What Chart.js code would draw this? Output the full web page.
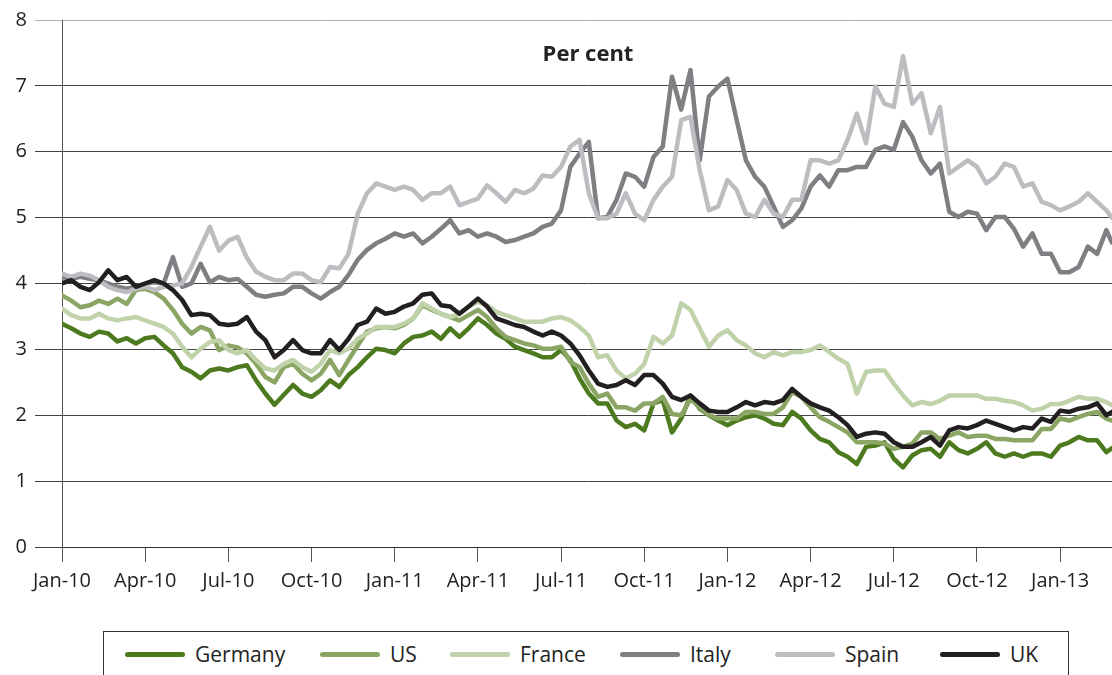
<!DOCTYPE html>
<html>
<head>
<meta charset="utf-8">
<script src="https://cdn.jsdelivr.net/npm/chart.js@4"></script>
<style>
  html, body { margin: 0; padding: 0; background: #fff; }
  #wrap { position: relative; width: 1112px; height: 675px; overflow: hidden; font-family: "Open Sans", "Noto Sans", sans-serif; }
  #title { position: absolute; left: 488px; width: 200px; top: 37px; text-align: center; font-weight: bold; font-size: 22px; color: #222; }
  #legend { position: absolute; left: 103px; top: 631px; width: 966px; height: 70px; border: 1px solid #333; box-sizing: border-box; }
  .item { position: absolute; top: 8px; display: flex; align-items: center; font-size: 21px; color: #222; }
  .sw { width: 60px; height: 5px; border-radius: 3px; margin-right: 10px; }
</style>
</head>
<body>
<div id="wrap">
  <canvas id="c" width="1112" height="620"></canvas>
  <div id="title">Per cent</div>
  <div id="legend"></div>
</div>
<script>
// Quarter tick labels (x axis, every 3 months from Jan-10)
const tickLabels = ["Jan-10","Apr-10","Jul-10","Oct-10","Jan-11","Apr-11","Jul-11","Oct-11","Jan-12","Apr-12","Jul-12","Oct-12","Jan-13"];
const seriesNames = ["Germany","US","France","Italy","Spain","UK"];
const seriesColors = ["#4d7a1e","#8aa564","#c0d2aa","#7f7f83","#bdbdc1","#231f20"];

// Values sampled about every 10 days from Jan 2010 (per cent)
const germany = [3.39,3.32,3.24,3.19,3.27,3.24,3.12,3.17,3.09,3.17,3.19,3.06,2.94,2.73,2.66,2.56,2.68,2.71,2.68,2.73,2.76,2.53,2.33,2.16,2.31,2.46,2.33,2.28,2.38,2.53,
 2.43,2.61,2.73,2.88,3.01,2.99,2.94,3.09,3.19,3.21,3.27,3.16,3.32,3.19,3.32,3.47,3.37,3.24,3.16,3.04,2.99,2.94,2.88,2.88,2.99,2.84,2.56,2.33,2.18,
 2.18,1.92,1.82,1.87,1.77,2.18,2.23,1.74,1.95,2.30,2.10,2.00,1.92,1.85,1.92,1.97,2.00,1.95,1.87,1.85,2.05,1.95,1.77,1.64,1.59,1.44,1.37,1.26,
 1.52,1.54,1.59,1.34,1.21,1.39,1.47,1.49,1.37,1.59,1.47,1.42,1.49,1.59,1.42,1.37,1.42,1.37,1.42,1.42,1.37,1.54,1.59,1.67,1.62,1.62,1.44,1.50];
const us = [3.82,3.74,3.64,3.67,3.74,3.69,3.77,3.69,3.90,3.92,3.87,3.77,3.60,3.39,3.24,3.34,3.29,2.99,3.06,3.03,2.94,2.78,2.58,2.50,2.73,2.78,2.63,2.53,2.63,2.84,
 2.61,2.84,3.06,3.27,3.32,3.34,3.32,3.37,3.47,3.67,3.60,3.54,3.49,3.44,3.52,3.60,3.49,3.32,3.19,3.14,3.09,3.06,3.01,3.01,3.04,2.81,2.73,2.48,2.28,
 2.33,2.12,2.12,2.07,2.18,2.18,2.28,2.02,2.00,2.25,2.12,2.00,1.95,1.95,1.95,2.05,2.05,2.02,2.02,2.12,2.35,2.28,2.12,1.97,1.90,1.82,1.74,1.59,
 1.59,1.59,1.57,1.49,1.52,1.57,1.74,1.74,1.64,1.69,1.74,1.67,1.69,1.69,1.64,1.64,1.62,1.62,1.62,1.79,1.79,1.95,1.92,1.97,2.02,2.05,1.95,1.92];
const france = [3.62,3.52,3.47,3.47,3.54,3.47,3.44,3.47,3.49,3.44,3.39,3.34,3.24,3.04,2.88,3.01,3.11,3.14,2.99,2.94,2.99,2.84,2.71,2.68,2.78,2.84,2.73,2.66,2.78,2.99,
 2.94,3.01,3.16,3.24,3.34,3.34,3.34,3.39,3.47,3.70,3.62,3.54,3.49,3.54,3.65,3.72,3.67,3.57,3.52,3.47,3.42,3.42,3.42,3.47,3.49,3.44,3.34,3.21,2.88,
 2.91,2.68,2.56,2.63,2.78,3.19,3.09,3.21,3.70,3.60,3.32,3.04,3.21,3.29,3.14,3.06,2.94,2.88,2.96,2.91,2.96,2.96,2.99,3.06,2.96,2.86,2.78,2.33,
 2.66,2.68,2.68,2.48,2.30,2.15,2.20,2.17,2.22,2.30,2.30,2.30,2.30,2.25,2.25,2.22,2.20,2.15,2.07,2.10,2.17,2.17,2.22,2.28,2.25,2.25,2.20,2.15];
const italy = [4.10,4.07,4.10,4.07,4.05,4.00,3.95,3.92,3.95,4.00,4.02,4.00,4.40,3.95,4.00,4.30,4.02,4.10,4.05,4.07,3.95,3.83,3.80,3.83,3.85,3.95,3.95,3.85,3.77,3.87,
 3.95,4.13,4.36,4.51,4.61,4.68,4.76,4.71,4.76,4.61,4.71,4.83,4.96,4.76,4.81,4.71,4.76,4.71,4.63,4.66,4.71,4.76,4.86,4.91,5.11,5.77,5.97,6.15,4.99,
 5.01,5.27,5.67,5.62,5.47,5.92,6.08,7.14,6.64,7.24,5.87,6.84,6.99,7.11,6.48,5.87,5.62,5.47,5.17,4.86,4.96,5.14,5.47,5.64,5.47,5.72,5.72,5.77,
 5.77,6.03,6.08,6.03,6.45,6.23,5.87,5.67,5.82,5.09,5.01,5.09,5.06,4.81,5.01,5.01,4.83,4.56,4.76,4.45,4.45,4.17,4.17,4.25,4.56,4.45,4.81,4.62];
const spain = [4.15,4.10,4.15,4.12,4.05,3.95,3.90,3.87,3.92,3.95,3.90,3.95,3.97,4.00,4.25,4.56,4.86,4.50,4.65,4.71,4.39,4.18,4.10,4.05,4.05,4.15,4.15,4.05,4.02,4.25,
 4.23,4.45,5.06,5.37,5.52,5.47,5.42,5.47,5.42,5.27,5.37,5.37,5.47,5.19,5.24,5.29,5.49,5.37,5.24,5.42,5.37,5.44,5.64,5.62,5.77,6.08,6.18,5.37,4.99,
 4.99,5.06,5.37,5.06,4.96,5.27,5.47,5.62,6.48,6.53,5.72,5.11,5.17,5.57,5.42,5.06,5.01,5.27,5.06,5.01,5.27,5.27,5.87,5.87,5.82,5.87,6.18,6.58,
 6.13,6.99,6.73,6.68,7.45,6.73,6.89,6.28,6.68,5.67,5.77,5.87,5.77,5.52,5.62,5.82,5.77,5.47,5.52,5.24,5.19,5.11,5.17,5.24,5.37,5.24,5.11,5.00];
const uk = [4.00,4.05,3.95,3.90,4.02,4.20,4.05,4.10,3.95,4.00,4.05,4.00,3.90,3.75,3.52,3.54,3.52,3.39,3.37,3.39,3.49,3.27,3.14,2.88,2.99,3.14,2.99,2.94,2.94,3.14,
 2.99,3.16,3.37,3.42,3.62,3.54,3.57,3.65,3.70,3.83,3.85,3.67,3.65,3.54,3.65,3.77,3.65,3.47,3.42,3.37,3.34,3.27,3.21,3.27,3.21,3.09,2.91,2.68,2.48,
 2.43,2.46,2.53,2.46,2.61,2.61,2.48,2.28,2.23,2.30,2.18,2.07,2.05,2.05,2.12,2.20,2.15,2.20,2.18,2.23,2.40,2.28,2.18,2.12,2.07,1.97,1.85,1.67,
 1.72,1.74,1.72,1.59,1.52,1.52,1.59,1.67,1.54,1.77,1.82,1.80,1.85,1.92,1.87,1.82,1.77,1.82,1.80,1.95,1.90,2.07,2.05,2.10,2.12,2.18,2.00,2.05];

// x positions: months since Jan-2010 (one sample every third of a month, last one at the series end)
const endMonth = 37.87;
const months = germany.map((_, i) => i === germany.length - 1 ? endMonth : i / 3);

const allSeries = [germany, us, france, italy, spain, uk];
const datasets = allSeries.map((vals, k) => ({
  label: seriesNames[k],
  data: vals.map((v, i) => ({ x: months[i], y: v })),
  borderColor: seriesColors[k],
  backgroundColor: seriesColors[k],
  borderWidth: 4.5,
  pointRadius: 0,
  tension: 0,
  borderJoinStyle: 'round',
  borderCapStyle: 'round',
  order: seriesNames.length - k
}));

// HTML legend
const legendLeft = [21, 216, 346, 516, 671, 836];
const lg = document.getElementById('legend');
seriesNames.forEach((n, k) => {
  const it = document.createElement('div'); it.className = 'item'; it.style.left = legendLeft[k] + 'px';
  const sw = document.createElement('span'); sw.className = 'sw'; sw.style.background = seriesColors[k];
  const tx = document.createElement('span'); tx.textContent = n;
  it.appendChild(sw); it.appendChild(tx); lg.appendChild(it);
});

const tickFont = { size: 20, family: '"Open Sans", sans-serif' };

new Chart(document.getElementById('c'), {
  type: 'line',
  data: { datasets },
  options: {
    responsive: false,
    animation: false,
    devicePixelRatio: 1,
    layout: { padding: { top: 20, right: 0, left: 0, bottom: 0 } },
    plugins: { legend: { display: false }, tooltip: { enabled: false } },
    scales: {
      x: {
        type: 'linear', min: 0, max: endMonth,
        afterBuildTicks: (s) => { s.ticks = tickLabels.map((_, i) => ({ value: i * 3 })); },
        afterFit: (s) => { s.height = 73; },
        ticks: { callback: (v) => tickLabels[Math.round(v / 3)], font: tickFont, color: '#222', padding: 7, maxRotation: 0, autoSkip: false },
        grid: { drawOnChartArea: false, drawTicks: true, tickLength: 15, color: '#555' },
        border: { color: '#333', width: 1 }
      },
      y: {
        min: 0, max: 8,
        afterFit: (s) => { s.width = 62; },
        ticks: { stepSize: 1, font: tickFont, color: '#222', padding: 8 },
        grid: { color: (c) => (c.tick && c.tick.value === 8) ? '#b0b0b0' : '#444', tickLength: 27, lineWidth: 1 },
        border: { color: '#555', width: 1 }
      }
    }
  }
});
</script>
</body>
</html>
